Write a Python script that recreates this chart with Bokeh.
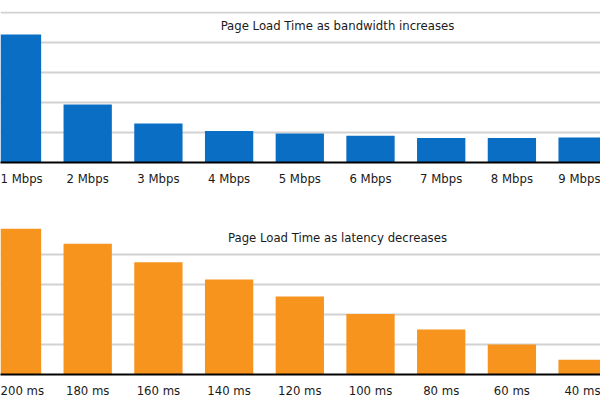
from bokeh.plotting import figure
from bokeh.layouts import column
from bokeh.models import FixedTicker, Label
from bokeh.embed import file_html
from bokeh.resources import INLINE

# Data (page load time, in grid units)
bandwidth_labels = ["1 Mbps", "2 Mbps", "3 Mbps", "4 Mbps", "5 Mbps", "6 Mbps", "7 Mbps", "8 Mbps", "9 Mbps"]
bandwidth_values = [4.27, 1.93, 1.30, 1.05, 0.97, 0.89, 0.82, 0.82, 0.83]

latency_labels = ["200 ms", "180 ms", "160 ms", "140 ms", "120 ms", "100 ms", "80 ms", "60 ms", "40 ms"]
latency_values = [4.86, 4.36, 3.74, 3.17, 2.60, 2.02, 1.50, 1.00, 0.49]

grid_ticks = [1, 2, 3, 4, 5]

FONT = "DejaVu Sans Condensed"


def make_panel(labels, values, color, title, top_border, bottom_border, title_y, standoff):
    xs = list(range(1, len(labels) + 1))
    spacing = 70.7
    start = 1 - 16.5 / spacing
    end = start + 600 / spacing
    frame_h = 200 - top_border - bottom_border
    p = figure(width=600, height=200, output_backend="svg", toolbar_location=None,
               x_range=(start, end), y_range=(0, 5 * frame_h / 150.0),
               y_axis_location=None, min_border_left=0, min_border_right=0,
               min_border_top=top_border, min_border_bottom=bottom_border)
    p.outline_line_color = None
    p.background_fill_color = "white"
    p.xgrid.visible = False
    p.ygrid.ticker = FixedTicker(ticks=grid_ticks)
    p.ygrid.grid_line_color = "#d2d2d2"
    p.ygrid.grid_line_width = 2
    p.vbar(x=xs, top=values, width=48.3 / spacing, bottom=0, fill_color=color, line_color=None)
    ax = p.xaxis[0]
    ax.ticker = FixedTicker(ticks=xs)
    ax.major_label_overrides = {x: l for x, l in zip(xs, labels)}
    ax.major_tick_line_color = None
    ax.major_tick_out = 0
    ax.major_tick_in = 0
    ax.minor_tick_line_color = None
    ax.axis_line_color = "black"
    ax.axis_line_width = 2
    ax.major_label_text_font = FONT
    ax.major_label_text_font_size = "13px"
    ax.major_label_text_color = "#1a1a1a"
    ax.major_label_standoff = standoff
    p.add_layout(Label(x=337, y=title_y, x_units="screen", y_units="screen", text=title,
                       text_font=FONT, text_font_size="13px", text_color="#1a1a1a",
                       text_align="center", text_baseline="middle"))
    return p


top = make_panel(bandwidth_labels, bandwidth_values, "#0b6ec5",
                 "Page Load Time as bandwidth increases", 11, 38, 162 - 25, 8)
bottom = make_panel(latency_labels, latency_values, "#f7941e",
                    "Page Load Time as latency decreases", 24, 26, 174 - 37, 8)

layout = column(top, bottom, spacing=0)
open("out.html", "w").write(file_html(layout, INLINE))
